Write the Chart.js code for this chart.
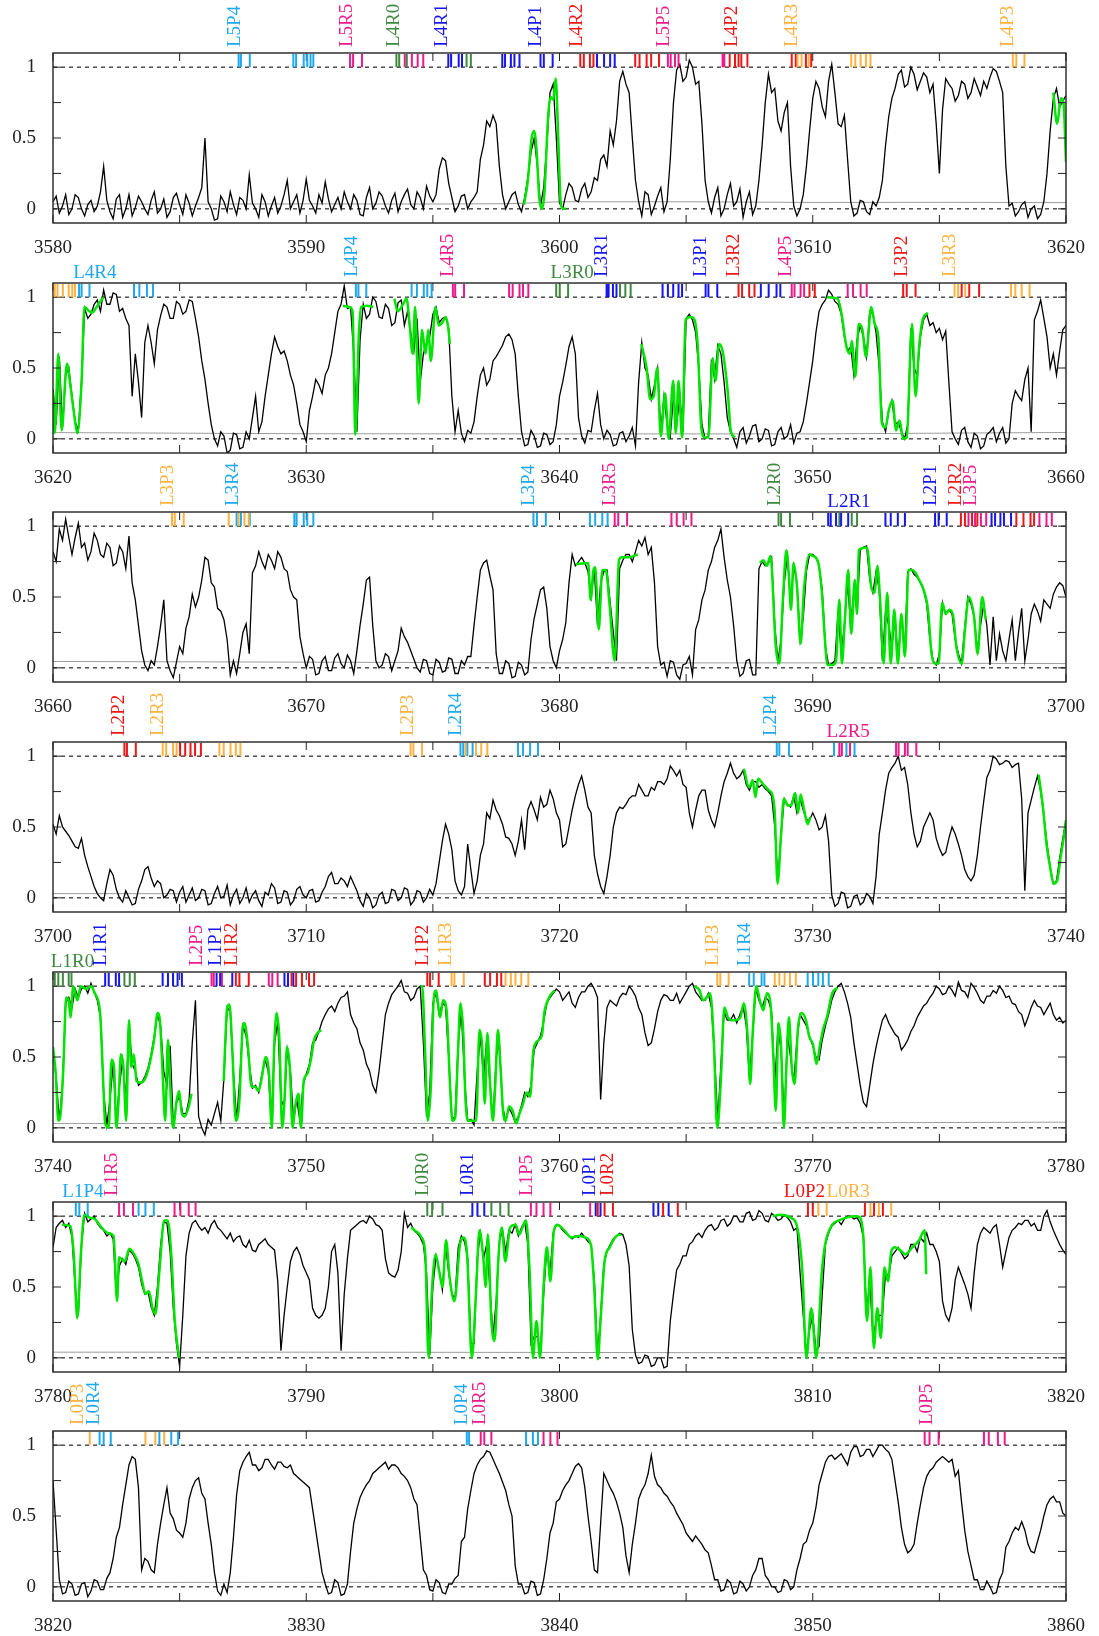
<!DOCTYPE html>
<html>
<head>
<meta charset="utf-8">
<script src="https://cdn.jsdelivr.net/npm/chart.js@4.4.1/dist/chart.umd.min.js"></script>
<style>
  body { margin: 0; background: #fff; }
  #page { position: relative; width: 1099px; height: 1636px; overflow: hidden; background: #fff; }
  .panel { position: absolute; left: 0; width: 1099px; height: 275px; }
</style>
</head>
<body>
<div id="page"></div>
<script>
// wavelength windows (Angstrom), one panel each
var panelStarts = [3580, 3620, 3660, 3700, 3740, 3780, 3820];
var panelSpan = 40;
var sampleStep = 0.125;

// normalised flux, sampled every 0.125 A from the panel start (one row = 5 A)
var flux3580 = [
  0.05,0.09,-0.03,0.02,0.1,-0.04,0.0,0.1,0.08,0.0,-0.05,0.03,0.06,-0.02,0.02,0.12,0.3,0.06,-0.02,-0.07,0.07,0.1,-0.06,0.0,0.1,-0.05,0.01,0.09,0.05,0.0,-0.04,0.06,0.12,-0.03,0.0,0.07,-0.06,-0.02,0.08,0.11,
  0.03,-0.04,0.1,0.04,-0.05,0.02,0.08,0.15,0.5,0.05,0.0,-0.08,-0.07,0.09,0.05,-0.02,0.12,0.03,-0.04,0.08,0.06,0.0,0.24,0.04,0.0,-0.06,0.1,0.05,-0.05,0.02,0.08,-0.03,0.02,0.1,0.2,0.0,0.05,0.1,-0.03,0.06,
  0.21,0.06,0.02,-0.03,0.1,0.04,0.19,0.07,-0.02,0.03,0.08,0.0,0.12,0.05,0.0,0.1,0.06,-0.04,-0.05,0.08,0.15,0.0,0.04,0.12,0.09,0.02,-0.03,0.06,0.11,-0.02,0.05,0.1,0.14,0.03,0.0,0.12,0.08,0.0,0.16,0.09,
  0.05,0.1,0.28,0.36,0.34,0.18,0.08,-0.02,0.02,0.09,0.1,0.0,0.05,0.08,0.12,0.35,0.45,0.62,0.58,0.66,0.6,0.3,0.1,0.0,0.05,0.1,0.12,0.03,-0.02,0.08,0.22,0.4,0.5,0.3,0.02,0.15,0.45,0.82,0.88,0.5,
  0.04,0.0,0.1,0.18,0.15,0.06,0.05,0.14,0.18,0.08,0.12,0.22,0.2,0.35,0.38,0.3,0.55,0.45,0.62,0.9,0.97,0.88,0.82,0.5,0.2,0.05,-0.05,0.12,0.1,-0.04,0.02,0.09,0.15,-0.02,0.05,0.35,0.75,0.98,1.02,0.9,
  0.93,1.05,1.0,0.88,0.9,0.6,0.2,0.05,-0.03,0.08,0.15,-0.05,0.0,0.1,0.18,0.02,0.05,0.14,-0.06,0.05,0.12,-0.04,0.02,0.2,0.45,0.75,0.95,0.82,0.85,0.62,0.55,0.68,0.75,0.3,0.02,-0.05,0.0,0.1,0.3,0.55,
  0.78,0.9,0.85,0.72,0.65,0.9,1.02,0.82,0.6,0.58,0.66,0.35,0.05,-0.05,-0.03,0.06,0.05,-0.02,-0.04,0.05,0.02,0.08,0.2,0.45,0.65,0.78,0.85,0.95,0.98,0.86,0.88,1.0,0.95,0.84,0.9,0.96,0.93,0.82,0.88,0.6,
  0.25,0.7,0.92,0.88,0.85,0.76,0.8,0.9,0.88,0.78,0.82,0.92,0.86,0.8,0.9,0.85,0.93,0.99,0.97,0.9,0.82,0.3,0.02,0.04,-0.05,-0.02,0.03,0.05,-0.06,0.0,0.02,-0.07,-0.04,0.05,0.25,0.55,0.78,0.85,0.72,0.76,
  0.8];
var flux3620 = [
  0.35,0.1,0.58,0.08,0.45,0.5,0.3,0.12,0.06,0.4,0.92,0.85,0.88,0.95,0.98,0.9,1.05,0.95,0.95,1.03,1.02,0.9,0.92,0.85,0.8,0.3,0.6,0.4,0.15,0.68,0.8,0.68,0.53,0.77,0.87,0.95,0.93,0.85,0.85,0.97,
  0.95,0.88,0.9,0.98,0.97,0.85,0.72,0.55,0.42,0.25,0.1,0.0,-0.05,0.05,0.02,-0.1,-0.08,0.04,0.03,-0.07,-0.06,0.05,0.0,0.15,0.3,0.05,0.12,0.3,0.45,0.6,0.72,0.65,0.6,0.62,0.55,0.45,0.38,0.25,0.1,0.05,
  -0.02,0.2,0.3,0.42,0.38,0.32,0.45,0.5,0.6,0.75,0.9,0.95,1.08,0.92,0.93,0.6,0.05,0.7,0.95,0.85,0.88,1.0,0.97,0.86,0.85,0.95,0.92,0.8,0.82,0.96,0.98,0.8,0.9,0.75,0.62,0.85,0.4,0.6,0.68,0.72,
  0.88,0.93,0.82,0.85,0.86,0.78,0.3,0.05,0.2,0.04,-0.02,0.06,0.04,0.12,0.3,0.45,0.5,0.38,0.42,0.55,0.58,0.62,0.66,0.72,0.74,0.7,0.6,0.3,0.05,-0.05,-0.04,0.06,0.02,-0.06,-0.05,0.04,0.03,-0.04,-0.02,0.1,
  0.3,0.4,0.52,0.65,0.72,0.6,0.15,0.02,-0.03,0.06,0.05,0.2,0.32,0.1,0.0,0.06,0.03,-0.05,-0.04,0.04,0.05,-0.02,0.02,0.08,-0.05,0.4,0.68,0.5,0.45,0.28,0.38,0.5,0.05,0.3,0.1,0.02,0.3,0.1,0.3,0.05,
  0.85,0.88,0.84,0.75,0.5,0.1,0.0,0.02,0.56,0.42,0.66,0.6,0.4,0.15,0.05,0.0,-0.06,0.05,0.08,-0.03,0.02,0.09,0.1,-0.02,0.0,0.07,0.06,-0.05,-0.04,0.05,0.08,0.0,0.02,0.1,-0.03,0.04,0.05,0.12,0.25,0.4,
  0.55,0.75,0.9,0.95,0.98,1.05,1.02,0.97,0.95,0.88,0.72,0.62,0.65,0.45,0.7,0.8,0.72,0.58,0.9,0.88,0.75,0.5,0.12,0.05,0.2,0.27,0.1,0.12,0.05,0.0,0.1,0.78,0.5,0.45,0.72,0.84,0.88,0.8,0.82,0.75,
  0.78,0.7,0.76,0.4,0.05,0.0,-0.04,0.06,0.08,-0.02,-0.06,0.04,0.02,-0.07,-0.05,0.03,0.05,0.08,-0.02,0.04,0.08,-0.03,0.0,0.25,0.34,0.3,0.27,0.42,0.5,0.05,0.84,0.9,0.98,0.85,0.72,0.5,0.6,0.45,0.62,0.77,
  0.8];
var flux3660 = [
  0.82,0.75,0.98,0.9,1.05,0.92,0.8,0.92,1.02,0.85,0.88,0.76,0.82,0.95,0.9,0.8,0.78,0.88,0.85,0.72,0.74,0.86,0.82,0.7,0.93,0.6,0.48,0.3,0.12,0.02,-0.02,0.05,0.02,0.15,0.3,0.48,0.05,-0.02,-0.07,0.04,
  0.15,0.1,0.28,0.36,0.52,0.43,0.5,0.62,0.78,0.76,0.6,0.57,0.42,0.4,0.34,0.2,-0.05,0.05,-0.04,0.1,0.25,0.31,0.1,0.67,0.72,0.82,0.75,0.7,0.8,0.76,0.7,0.82,0.78,0.7,0.68,0.55,0.5,0.48,0.22,0.1,
  0.0,0.08,0.06,-0.05,-0.04,0.05,0.08,-0.02,-0.02,0.07,0.1,0.03,0.0,0.09,0.05,-0.04,0.12,0.3,0.45,0.62,0.64,0.3,0.05,0.0,0.02,0.1,0.08,-0.02,0.05,0.12,0.28,0.22,0.18,0.12,0.06,0.0,-0.03,0.06,0.05,-0.04,
  -0.05,0.06,0.04,-0.03,-0.02,0.07,0.06,-0.04,-0.04,0.05,0.02,0.08,0.08,0.3,0.5,0.69,0.74,0.76,0.65,0.55,0.1,-0.04,-0.04,0.05,0.03,-0.07,-0.06,0.04,0.02,-0.05,-0.03,0.2,0.35,0.45,0.55,0.57,0.42,0.15,0.05,0.0,
  0.12,0.2,0.32,0.6,0.8,0.72,0.75,0.78,0.74,0.68,0.5,0.7,0.3,0.6,0.68,0.69,0.46,0.25,0.05,0.7,0.76,0.8,0.8,0.75,0.82,0.9,0.86,0.92,0.8,0.85,0.6,0.15,0.02,0.04,-0.06,0.05,0.04,-0.05,-0.08,0.02,
  0.03,0.08,-0.05,0.27,0.34,0.48,0.55,0.69,0.75,0.85,0.9,0.98,0.78,0.62,0.5,0.3,0.05,-0.06,-0.04,0.05,0.06,-0.05,-0.05,0.7,0.75,0.72,0.74,0.78,0.3,0.05,0.2,0.6,0.8,0.45,0.72,0.6,0.2,0.35,0.68,0.8,
  0.8,0.78,0.72,0.55,0.15,0.02,0.03,0.05,0.4,0.1,0.3,0.6,0.3,0.55,0.4,0.83,0.85,0.86,0.62,0.53,0.68,0.55,0.05,0.4,0.3,0.15,0.35,0.05,0.38,0.1,0.68,0.7,0.66,0.64,0.6,0.55,0.45,0.2,0.05,0.02,
  0.1,0.46,0.38,0.41,0.38,0.2,0.1,0.03,0.28,0.5,0.45,0.36,0.12,0.3,0.45,0.3,0.02,0.36,0.05,0.24,0.12,0.05,0.2,0.34,0.05,0.25,0.42,0.05,0.2,0.38,0.45,0.4,0.33,0.48,0.45,0.42,0.52,0.57,0.6,0.58,
  0.5];
var flux3700 = [
  0.52,0.45,0.58,0.5,0.47,0.44,0.4,0.36,0.35,0.42,0.3,0.22,0.15,0.08,0.03,0.0,-0.02,0.1,0.2,0.16,0.06,0.0,-0.03,0.05,0.0,-0.05,-0.04,0.06,0.12,0.2,0.22,0.14,0.08,0.12,0.1,0.0,0.02,0.06,0.05,-0.03,
  0.04,0.08,-0.03,0.02,0.07,-0.02,0.0,0.06,0.05,-0.05,-0.04,0.03,0.08,0.0,0.01,0.09,-0.05,0.02,0.06,-0.04,0.0,0.07,-0.03,0.02,0.05,-0.02,-0.06,0.04,0.02,0.1,0.07,-0.04,-0.03,0.05,0.04,-0.05,-0.02,0.06,0.08,0.02,
  0.0,0.05,0.06,-0.03,-0.02,0.04,0.08,0.15,0.18,0.1,0.1,0.14,0.12,0.08,0.15,0.1,0.05,-0.02,-0.06,0.03,0.0,-0.07,-0.05,0.02,0.04,-0.04,-0.03,0.06,0.05,-0.02,0.0,0.07,0.06,-0.05,-0.02,0.05,0.04,-0.03,0.0,0.06,
  0.02,0.1,0.25,0.4,0.52,0.45,0.34,0.12,0.05,0.02,0.08,0.38,0.2,0.03,0.12,0.3,0.38,0.6,0.56,0.69,0.62,0.58,0.52,0.43,0.42,0.38,0.3,0.4,0.55,0.34,0.62,0.68,0.62,0.55,0.71,0.64,0.66,0.76,0.7,0.6,
  0.55,0.36,0.38,0.5,0.62,0.72,0.8,0.86,0.76,0.64,0.6,0.3,0.17,0.08,0.03,0.15,0.3,0.5,0.6,0.64,0.63,0.66,0.7,0.72,0.72,0.8,0.76,0.72,0.72,0.78,0.76,0.82,0.82,0.8,0.84,0.93,0.9,0.86,0.9,0.8,
  0.78,0.6,0.5,0.62,0.72,0.76,0.76,0.62,0.55,0.5,0.6,0.72,0.82,0.88,0.95,0.88,0.84,0.86,0.9,0.8,0.76,0.82,0.82,0.78,0.8,0.77,0.75,0.72,0.5,0.12,0.45,0.7,0.66,0.64,0.72,0.6,0.7,0.62,0.55,0.55,
  0.6,0.55,0.48,0.5,0.58,0.4,0.02,-0.06,-0.04,0.04,0.03,-0.07,-0.06,0.01,0.02,-0.05,-0.03,0.03,0.01,-0.04,0.15,0.45,0.6,0.76,0.88,0.92,0.95,1.0,0.9,0.92,0.8,0.6,0.45,0.36,0.4,0.5,0.55,0.6,0.55,0.42,
  0.35,0.3,0.32,0.42,0.5,0.45,0.38,0.3,0.2,0.15,0.12,0.16,0.3,0.5,0.68,0.85,0.9,1.0,0.98,0.94,0.95,0.97,0.96,0.92,0.94,0.95,0.7,0.05,0.6,0.69,0.78,0.86,0.75,0.58,0.38,0.22,0.1,0.12,0.28,0.42,
  0.55];
var flux3740 = [
  0.55,0.35,0.05,0.3,0.88,0.92,0.85,0.98,0.92,0.98,1.0,0.95,1.02,0.96,0.9,0.78,0.25,0.02,0.2,0.45,0.05,0.3,0.48,0.2,0.72,0.45,0.4,0.3,0.32,0.36,0.42,0.52,0.65,0.8,0.72,0.4,0.3,0.58,0.02,0.18,
  0.22,0.1,0.1,0.2,0.6,0.9,0.08,0.0,-0.05,0.06,0.02,0.1,0.18,0.05,0.35,0.85,0.82,0.4,0.05,0.35,0.72,0.65,0.45,0.28,0.3,0.25,0.38,0.48,0.4,0.02,0.6,0.75,0.2,0.15,0.55,0.4,0.05,0.2,0.05,0.3,
  0.38,0.45,0.6,0.62,0.68,0.75,0.8,0.84,0.86,0.82,0.88,0.92,0.93,0.96,0.8,0.74,0.7,0.6,0.55,0.45,0.4,0.3,0.25,0.4,0.6,0.8,0.88,0.94,0.97,1.0,1.04,0.96,0.95,0.9,0.92,0.98,1.0,0.6,0.08,0.25,
  0.88,0.95,0.8,0.88,0.86,0.5,0.06,0.08,0.6,0.82,0.35,0.05,0.06,0.02,0.4,0.65,0.35,0.62,0.32,0.05,0.5,0.6,0.15,0.05,0.14,0.1,0.04,0.08,0.16,0.25,0.22,0.3,0.55,0.6,0.65,0.75,0.88,0.92,0.95,0.98,
  0.96,0.9,0.93,0.96,0.88,0.85,0.92,0.96,0.96,1.0,1.02,0.98,0.92,0.2,0.6,0.85,0.9,0.88,0.86,0.92,0.95,0.94,1.0,0.97,0.93,0.85,0.8,0.67,0.58,0.6,0.7,0.82,0.9,0.94,0.93,0.9,0.9,0.95,0.88,0.92,
  0.96,1.0,1.02,0.96,0.93,0.9,0.9,0.95,0.85,0.5,0.05,0.45,0.82,0.76,0.76,0.8,0.74,0.8,0.86,0.72,0.35,0.65,0.98,0.9,0.85,0.92,0.9,0.82,0.3,0.7,0.55,0.05,0.65,0.5,0.32,0.62,0.8,0.76,0.72,0.64,
  0.58,0.5,0.48,0.62,0.72,0.8,0.9,0.96,1.0,1.02,0.96,0.88,0.78,0.6,0.45,0.3,0.18,0.15,0.3,0.45,0.57,0.67,0.76,0.8,0.74,0.7,0.66,0.64,0.55,0.58,0.62,0.68,0.72,0.78,0.82,0.86,0.88,0.92,0.95,1.0,
  0.98,0.94,0.95,1.0,0.97,0.93,1.03,0.97,0.96,0.92,1.02,0.99,0.95,0.9,0.88,0.93,0.93,0.97,0.95,1.0,0.97,0.92,0.93,0.88,0.87,0.82,0.8,0.72,0.78,0.85,0.9,0.86,0.85,0.8,0.84,0.88,0.8,0.76,0.78,0.74,
  0.76];
var flux3780 = [
  0.78,0.92,0.95,0.97,0.92,0.95,0.85,0.5,0.3,0.8,1.02,0.96,0.98,1.0,0.95,0.92,0.9,0.86,0.88,0.84,0.45,0.65,0.7,0.66,0.76,0.74,0.7,0.64,0.52,0.45,0.47,0.36,0.3,0.5,0.8,0.96,0.95,0.75,0.35,0.1,
  -0.06,0.3,0.72,0.88,0.95,0.97,0.93,0.9,0.92,0.88,0.94,0.97,0.92,0.9,0.87,0.84,0.88,0.82,0.85,0.86,0.8,0.78,0.83,0.76,0.75,0.8,0.82,0.84,0.8,0.78,0.76,0.54,0.05,0.3,0.5,0.68,0.75,0.78,0.73,0.65,
  0.6,0.55,0.35,0.3,0.28,0.3,0.35,0.5,0.75,0.8,0.6,0.05,0.45,0.7,0.9,0.92,0.94,0.96,0.97,0.95,1.0,0.98,0.94,0.93,0.9,0.7,0.6,0.58,0.57,0.62,0.75,1.02,0.92,0.95,0.9,0.88,0.85,0.8,0.6,0.02,
  0.5,0.72,0.62,0.48,0.8,0.6,0.45,0.42,0.78,0.86,0.82,0.7,0.1,0.1,0.7,0.88,0.7,0.8,0.5,0.15,0.4,0.82,0.9,0.75,0.9,0.88,0.94,0.86,0.92,0.96,0.8,0.1,0.15,0.15,0.05,0.45,0.78,0.6,0.88,0.94,
  0.93,0.9,0.88,0.86,0.84,0.86,0.85,0.88,0.85,0.82,0.8,0.55,0.02,0.3,0.66,0.75,0.8,0.84,0.86,0.88,0.87,0.8,0.65,0.2,0.02,-0.04,-0.03,0.02,0.01,-0.06,-0.05,0.0,0.0,-0.07,-0.06,0.26,0.45,0.62,0.66,0.72,
  0.72,0.8,0.82,0.86,0.88,0.85,0.9,0.93,0.94,0.9,0.92,0.97,0.98,0.93,0.95,1.0,1.0,0.96,0.96,1.02,1.03,0.97,0.98,1.04,1.02,0.97,0.96,1.02,1.0,0.97,0.98,1.01,0.99,0.96,0.9,0.92,0.6,0.3,0.03,0.2,
  0.3,0.05,0.08,0.45,0.8,0.88,0.93,0.95,0.97,0.94,0.98,1.0,1.0,0.98,0.99,0.95,0.85,0.3,0.55,0.15,0.25,0.3,0.3,0.6,0.58,0.72,0.75,0.78,0.74,0.7,0.72,0.8,0.8,0.75,0.85,0.82,0.88,0.8,0.8,0.75,
  0.68,0.4,0.3,0.26,0.35,0.55,0.64,0.58,0.52,0.45,0.35,0.6,0.8,0.88,0.92,0.9,0.88,0.92,0.94,0.8,0.64,0.75,0.85,0.9,0.92,0.95,0.94,0.97,0.97,0.93,0.95,0.9,0.9,1.0,1.04,0.96,0.9,0.85,0.8,0.76,
  0.73];
var flux3820 = [
  0.75,0.4,0.05,-0.05,-0.04,0.04,0.02,-0.06,-0.05,0.02,0.03,-0.07,-0.03,0.05,0.04,-0.02,-0.02,0.06,0.1,0.2,0.35,0.42,0.58,0.72,0.86,0.92,0.9,0.7,0.12,0.2,0.18,0.12,0.1,0.3,0.45,0.58,0.7,0.52,0.48,0.4,
  0.38,0.35,0.45,0.62,0.7,0.75,0.77,0.66,0.62,0.45,0.3,0.1,-0.03,-0.06,0.02,-0.04,0.1,0.35,0.65,0.82,0.88,0.92,0.95,0.86,0.86,0.82,0.84,0.9,0.9,0.86,0.83,0.88,0.88,0.85,0.84,0.86,0.8,0.78,0.76,0.74,
  0.72,0.7,0.55,0.4,0.25,0.1,0.02,-0.05,-0.04,0.05,0.03,-0.06,-0.05,0.02,0.25,0.45,0.55,0.63,0.68,0.72,0.75,0.8,0.82,0.84,0.86,0.88,0.83,0.86,0.86,0.84,0.8,0.78,0.75,0.7,0.62,0.58,0.35,0.12,0.08,-0.02,
  -0.03,0.05,0.03,-0.04,-0.05,0.02,0.02,0.06,0.08,0.32,0.35,0.55,0.68,0.8,0.86,0.9,0.92,0.96,0.95,0.9,0.85,0.8,0.74,0.68,0.58,0.5,0.15,0.02,0.02,-0.05,-0.04,0.04,0.03,-0.06,-0.05,0.05,0.2,0.38,0.45,0.6,
  0.62,0.68,0.72,0.75,0.8,0.85,0.87,0.84,0.7,0.5,0.32,0.12,0.1,0.45,0.8,0.75,0.7,0.66,0.6,0.52,0.42,0.22,0.1,0.3,0.45,0.62,0.68,0.72,0.8,0.93,0.78,0.72,0.7,0.66,0.64,0.6,0.57,0.52,0.48,0.44,
  0.38,0.35,0.32,0.36,0.33,0.3,0.26,0.24,0.15,0.05,0.05,-0.03,-0.02,0.05,0.03,-0.05,-0.04,0.04,0.02,-0.03,0.0,0.08,0.12,0.2,0.2,0.08,0.05,0.0,0.0,-0.04,-0.03,0.05,0.04,-0.02,0.0,0.12,0.2,0.3,0.32,0.4,
  0.45,0.56,0.72,0.8,0.88,0.92,0.93,0.9,0.92,0.94,0.9,0.86,0.95,0.99,0.99,0.92,0.93,0.97,0.97,0.92,0.96,1.0,1.0,0.97,0.95,0.9,0.75,0.6,0.42,0.3,0.24,0.26,0.3,0.45,0.58,0.7,0.78,0.82,0.84,0.88,
  0.9,0.92,0.9,0.88,0.9,0.78,0.82,0.6,0.4,0.25,0.15,0.05,0.05,-0.02,-0.02,0.04,0.0,-0.05,-0.04,0.05,0.1,0.28,0.32,0.38,0.42,0.4,0.46,0.4,0.3,0.25,0.24,0.32,0.4,0.5,0.58,0.62,0.64,0.6,0.6,0.52,
  0.5];

// model fits (green), [wavelength, flux] pairs, one list per fitted stretch
var fit3580 = [
  [[3598.6,0.03],[3598.75,0.2],[3598.9,0.5],[3599.0,0.55],[3599.1,0.4],[3599.2,0.08],[3599.3,0.0],[3599.4,0.1],[3599.55,0.65],[3599.65,0.79],[3599.75,0.77],[3599.85,0.92],[3599.95,0.5],[3600.05,0.04],[3600.15,0.0],[3600.25,0.0]],
  [[3619.5,0.82],[3619.65,0.6],[3619.8,0.78],[3619.9,0.75],[3620.0,0.33]]
];
var fit3620 = [
  [[3620.0,0.33],[3620.07,0.04],[3620.21,0.6],[3620.34,0.06],[3620.55,0.53],[3620.69,0.37],[3620.83,0.18],[3620.96,0.04],[3621.13,0.41],[3621.24,0.93],[3621.38,0.91],[3621.54,0.89],[3621.72,0.93],[3621.99,1.0]],
  [[3631.45,0.94],[3631.7,0.93],[3631.83,0.9],[3631.94,0.03],[3632.08,0.75],[3632.17,0.93],[3632.4,0.94],[3632.65,0.93]],
  [[3633.48,0.99],[3633.61,0.9],[3633.82,0.95],[3633.96,0.99],[3634.09,0.79],[3634.2,0.6],[3634.3,0.93],[3634.44,0.25],[3634.57,0.77],[3634.71,0.6],[3634.82,0.77],[3634.92,0.55],[3635.1,0.93],[3635.23,0.8],[3635.37,0.82],[3635.51,0.86],[3635.61,0.78],[3635.67,0.67]],
  [[3643.23,0.67],[3643.44,0.5],[3643.58,0.28],[3643.72,0.3],[3643.86,0.5],[3644.0,0.02],[3644.17,0.32],[3644.31,0.0],[3644.49,0.41],[3644.59,0.04],[3644.7,0.41],[3644.84,0.01],[3644.98,0.84],[3645.18,0.86],[3645.33,0.84],[3645.46,0.65],[3645.6,0.08],[3645.74,0.01],[3645.88,0.01],[3646.05,0.57],[3646.16,0.41],[3646.3,0.67],[3646.44,0.62],[3646.65,0.32],[3646.76,0.06],[3646.93,0.01]],
  [[3650.56,1.0],[3650.98,0.99],[3651.12,0.9],[3651.33,0.65],[3651.47,0.6],[3651.54,0.69],[3651.68,0.44],[3651.82,0.81],[3651.96,0.77],[3652.1,0.58],[3652.31,0.93],[3652.45,0.81],[3652.59,0.72],[3652.73,0.11],[3652.87,0.08],[3653.0,0.2],[3653.15,0.27],[3653.29,0.06],[3653.43,0.13],[3653.57,0.0],[3653.71,0.01],[3653.92,0.81],[3654.06,0.3],[3654.2,0.65],[3654.34,0.84],[3654.55,0.89]]
];
var fit3660 = [
  [[3680.64,0.73],[3681.13,0.74],[3681.23,0.48],[3681.34,0.69],[3681.41,0.71],[3681.55,0.27],[3681.69,0.69],[3681.83,0.69],[3681.97,0.46],[3682.18,0.05],[3682.35,0.76],[3682.46,0.78],[3682.74,0.78],[3683.09,0.8]],
  [[3687.91,0.74],[3688.05,0.76],[3688.19,0.72],[3688.33,0.79],[3688.54,0.15],[3688.68,0.03],[3688.82,0.48],[3688.96,0.83],[3689.06,0.64],[3689.14,0.41],[3689.24,0.74],[3689.38,0.57],[3689.52,0.17],[3689.66,0.57],[3689.87,0.8],[3690.01,0.79],[3690.22,0.74],[3690.36,0.53],[3690.5,0.15],[3690.57,0.02],[3690.78,0.02],[3690.92,0.05],[3691.05,0.48],[3691.15,0.03],[3691.26,0.31],[3691.4,0.69],[3691.52,0.24],[3691.66,0.62],[3691.75,0.38],[3691.82,0.83],[3692.1,0.85],[3692.17,0.83],[3692.31,0.57],[3692.45,0.53],[3692.55,0.72],[3692.66,0.48],[3692.8,0.03],[3692.94,0.53],[3693.08,0.03],[3693.22,0.41],[3693.36,0.03],[3693.5,0.38],[3693.64,0.08],[3693.78,0.69],[3693.92,0.69],[3694.06,0.67],[3694.2,0.62],[3694.34,0.57],[3694.55,0.41],[3694.69,0.1],[3694.83,0.03],[3694.97,0.03],[3695.11,0.46],[3695.25,0.38],[3695.39,0.41],[3695.53,0.38],[3695.67,0.15],[3695.88,0.03],[3696.02,0.29],[3696.16,0.5],[3696.37,0.36],[3696.51,0.1],[3696.69,0.5],[3696.83,0.34]]
];
var fit3700 = [
  [[3727.28,0.91],[3727.49,0.78],[3727.63,0.83],[3727.74,0.71],[3727.84,0.84],[3728.05,0.8],[3728.26,0.76],[3728.4,0.73],[3728.5,0.6],[3728.61,0.1],[3728.75,0.45],[3728.86,0.7],[3729.03,0.65],[3729.17,0.66],[3729.31,0.74],[3729.42,0.6],[3729.52,0.73],[3729.66,0.62],[3729.8,0.52],[3729.9,0.57]],
  [[3738.92,0.87],[3739.09,0.64],[3739.23,0.38],[3739.37,0.22],[3739.51,0.1],[3739.65,0.12],[3739.79,0.29],[3739.93,0.45],[3740.0,0.55]]
];
var fit3740 = [
  [[3740.0,0.57],[3740.11,0.38],[3740.21,0.05],[3740.3,0.1],[3740.41,0.43],[3740.52,0.92],[3740.62,0.9],[3740.69,0.78],[3740.8,1.0],[3740.96,0.9],[3741.1,1.0],[3741.31,0.98],[3741.51,1.0],[3741.65,0.95],[3741.86,0.81],[3741.99,0.29],[3742.06,0.03],[3742.2,0.0],[3742.31,0.48],[3742.41,0.43],[3742.5,0.0],[3742.59,0.19],[3742.68,0.52],[3742.78,0.43],[3742.89,0.05],[3743.0,0.76],[3743.09,0.43],[3743.19,0.52],[3743.3,0.33],[3743.44,0.32],[3743.58,0.33],[3743.71,0.38],[3743.85,0.48],[3743.99,0.62],[3744.13,0.81],[3744.22,0.76],[3744.33,0.38],[3744.43,0.05],[3744.54,0.62],[3744.63,0.29],[3744.74,0.0],[3744.88,0.19],[3744.98,0.26],[3745.09,0.1],[3745.2,0.08],[3745.36,0.15],[3745.47,0.24]],
  [[3746.74,0.33],[3746.88,0.85],[3746.97,0.87],[3747.08,0.55],[3747.22,0.05],[3747.36,0.19],[3747.49,0.71],[3747.56,0.74],[3747.7,0.57],[3747.84,0.29],[3747.98,0.29],[3748.11,0.26],[3748.25,0.36],[3748.39,0.5],[3748.53,0.38],[3748.64,0.0],[3748.73,0.55],[3748.83,0.81],[3748.94,0.62],[3749.05,0.0],[3749.14,0.19],[3749.24,0.57],[3749.35,0.43],[3749.46,0.0],[3749.56,0.15],[3749.69,0.24],[3749.79,0.0],[3749.9,0.33],[3750.04,0.38],[3750.18,0.48],[3750.31,0.62],[3750.45,0.67],[3750.59,0.69]],
  [[3754.51,1.0],[3754.58,1.0],[3754.69,0.55],[3754.8,0.05],[3754.92,0.29],[3755.03,0.9],[3755.13,0.97],[3755.22,0.85],[3755.29,0.78],[3755.4,0.9],[3755.54,0.83],[3755.68,0.29],[3755.77,0.05],[3755.88,0.07],[3755.98,0.48],[3756.09,0.88],[3756.2,0.67],[3756.29,0.19],[3756.4,0.05],[3756.57,0.05],[3756.71,0.05],[3756.84,0.69],[3756.94,0.59],[3757.05,0.17],[3757.15,0.67],[3757.26,0.31],[3757.37,0.05],[3757.46,0.29],[3757.57,0.69],[3757.67,0.43],[3757.78,0.1],[3757.87,0.05],[3758.01,0.15],[3758.15,0.12],[3758.29,0.03],[3758.42,0.1],[3758.56,0.17],[3758.7,0.25],[3758.84,0.22],[3758.97,0.55],[3759.18,0.62],[3759.32,0.67],[3759.39,0.8],[3759.59,0.92],[3759.8,0.97]],
  [[3765.32,1.0],[3765.53,0.97],[3765.67,0.9],[3765.81,0.92],[3765.95,0.95],[3766.09,0.62],[3766.23,0.0],[3766.37,0.33],[3766.51,0.85],[3766.65,0.78],[3766.79,0.76],[3766.93,0.76],[3767.14,0.78],[3767.28,0.88],[3767.42,0.67],[3767.53,0.31],[3767.63,0.67],[3767.77,1.0],[3767.91,0.9],[3768.05,0.83],[3768.19,0.95],[3768.33,0.88],[3768.44,0.52],[3768.54,0.12],[3768.65,0.74],[3768.75,0.57],[3768.86,0.0],[3768.96,0.43],[3769.06,0.78],[3769.17,0.43],[3769.28,0.31],[3769.42,0.71],[3769.56,0.81],[3769.73,0.76],[3769.87,0.64],[3770.01,0.59],[3770.15,0.45],[3770.29,0.59],[3770.43,0.71],[3770.56,0.78],[3770.77,0.95],[3770.98,0.99]]
];
var fit3780 = [
  [[3780.36,0.94],[3780.69,0.93],[3780.82,0.73],[3780.96,0.28],[3781.1,0.73],[3781.24,1.01],[3781.45,0.99],[3781.65,0.98],[3781.92,0.92],[3782.2,0.88],[3782.39,0.86],[3782.53,0.4],[3782.61,0.71],[3782.83,0.68],[3783.02,0.77],[3783.21,0.73],[3783.38,0.66],[3783.52,0.54],[3783.65,0.45],[3783.79,0.47],[3783.93,0.35],[3784.04,0.31],[3784.2,0.61],[3784.39,0.97],[3784.53,0.97],[3784.67,0.73],[3784.81,0.26],[3784.98,0.0]],
  [[3794.15,0.92],[3794.28,0.9],[3794.56,0.85],[3794.7,0.73],[3794.83,0.0],[3794.97,0.5],[3795.11,0.73],[3795.25,0.61],[3795.38,0.5],[3795.52,0.83],[3795.66,0.57],[3795.85,0.4],[3796.07,0.8],[3796.21,0.85],[3796.35,0.73],[3796.54,0.0],[3796.7,0.45],[3796.84,0.9],[3796.98,0.73],[3797.09,0.5],[3797.17,0.87],[3797.31,0.26],[3797.44,0.12],[3797.58,0.68],[3797.72,0.92],[3797.86,0.68],[3798.05,0.92],[3798.27,0.94],[3798.41,0.87],[3798.54,0.92],[3798.68,0.97],[3798.82,0.61],[3798.95,0.0],[3799.09,0.26],[3799.23,0.0],[3799.37,0.5],[3799.5,0.78],[3799.64,0.54],[3799.78,0.9],[3799.92,0.94],[3800.19,0.9],[3800.47,0.85],[3800.74,0.86],[3801.02,0.85],[3801.24,0.8],[3801.37,0.5],[3801.51,-0.01],[3801.62,0.26],[3801.78,0.68],[3801.98,0.78],[3802.25,0.86],[3802.44,0.87]],
  [[3808.43,1.0],[3808.71,1.01],[3809.12,0.99],[3809.39,0.92],[3809.59,0.61],[3809.75,0.0],[3809.94,0.35],[3810.14,0.0],[3810.36,0.61],[3810.49,0.8],[3810.77,0.94],[3811.04,0.97],[3811.32,0.99],[3811.73,1.0],[3811.87,0.99],[3812.0,0.85],[3812.14,0.26],[3812.28,0.64],[3812.41,0.07],[3812.55,0.35],[3812.69,0.14],[3812.83,0.64],[3812.97,0.54],[3813.1,0.75],[3813.24,0.78],[3813.52,0.75],[3813.65,0.73],[3813.93,0.78],[3814.2,0.83],[3814.42,0.9],[3814.48,0.59]]
];
var fit3820 = [];

// flux error (grey), [wavelength, sigma]
var errorCurve = [[3580,0.035],[3585,0.033],[3590,0.035],[3595,0.034],[3598,0.036],[3600,0.05],[3605,0.05],[3610,0.045],
  [3615,0.046],[3620,0.044],[3625,0.04],[3630,0.036],[3640,0.035],[3650,0.035],[3660,0.045],[3670,0.04],[3680,0.035],
  [3690,0.035],[3700,0.03],[3710,0.028],[3720,0.03],[3730,0.03],[3740,0.03],[3750,0.032],[3760,0.03],[3770,0.035],
  [3780,0.04],[3790,0.04],[3800,0.038],[3810,0.035],[3820,0.03],[3830,0.032],[3840,0.03],[3850,0.03],[3860,0.03]];

// H2 line positions, grouped by colour (vibrational level)
var ticksCyan = [3587.33,3587.42,3587.77,3589.49,3589.6,3589.9,3590.04,3590.17,3590.28,
  3621.03,3621.13,3621.44,3623.2,3623.41,3623.71,3623.95,3631.96,3632.06,3632.37,3634.16,3634.37,3634.64,3634.78,3634.95,
  3667.25,3667.42,3667.77,3669.53,3669.62,3669.9,3670.04,3670.28,3678.97,3679.11,3679.46,3681.2,3681.41,3681.69,3681.9,
  3716.09,3716.2,3716.36,3716.57,3718.36,3718.56,3718.84,3719.15,3728.58,3728.68,3729.06,3730.84,3731.33,3731.65,
  3767.49,3767.67,3767.98,3768.09,3769.8,3770.01,3770.22,3770.4,3770.63,
  3780.9,3781.04,3781.37,3783.38,3783.65,3783.98,
  3821.84,3822.0,3822.28,3824.2,3824.67,3824.94,3836.34,3836.43,3838.68,3838.95,3839.15];
var ticksPink = [3591.73,3591.85,3592.2,3593.89,3594.17,3594.4,3594.62,3604.28,3604.39,3604.56,3604.7,3606.44,3606.51,
  3635.79,3635.88,3636.23,3638.01,3638.15,3638.42,3638.56,3638.77,3649.17,3649.28,3649.52,3649.66,3651.38,3651.59,3651.89,3652.13,
  3682.18,3682.32,3682.67,3684.42,3684.63,3684.9,3685.21,3696.15,3696.41,3696.64,3696.85,3698.95,3699.23,3699.44,
  3731.05,3731.15,3731.47,3733.29,3733.39,3733.64,3733.75,3734.09,
  3746.26,3746.35,3746.67,3748.52,3748.66,3748.87,
  3782.61,3782.8,3783.16,3784.8,3785.03,3785.36,3785.63,3798.87,3799.09,3799.37,3799.64,3801.21,
  3836.89,3837.03,3837.31,3839.37,3839.64,3839.92,3854.42,3854.61,3854.97,3856.76,3856.95,3857.31,3857.58];
var ticksGreen = [3593.56,3593.67,3593.97,3596.33,3596.5,
  3639.87,3640.01,3640.34,3642.39,3642.6,3642.81,
  3688.65,3688.75,3689.1,3691.05,3691.54,3691.75,
  3740.07,3740.21,3740.39,3740.62,3740.73,3742.82,3743.03,3743.23,
  3794.78,3794.97,3795.38,3797.31,3797.66,3797.99];
var ticksBlue = [3595.61,3595.72,3596.02,3596.15,3597.74,3597.85,3598.08,3598.22,3598.42,3599.25,3599.38,3599.73,3601.48,3601.76,3602.0,3602.18,
  3641.86,3641.94,3642.11,3642.25,3644.07,3644.28,3644.49,3644.7,3644.84,3645.77,3645.88,3646.23,3647.95,3648.26,3648.57,3648.72,
  3690.61,3690.71,3690.92,3691.12,3691.4,3692.87,3693.08,3693.36,3693.64,3694.83,3694.97,3695.29,3697.06,3697.2,3697.41,3697.55,3697.83,
  3742.06,3742.2,3742.48,3742.61,3744.33,3744.54,3744.74,3744.92,3745.09,3746.46,3746.6,3747.08,3749.14,3749.28,3749.49,
  3796.56,3796.76,3797.03,3801.43,3801.62,3803.71,3803.9,3804.31];
var ticksRed = [3600.82,3600.96,3601.2,3601.34,3602.99,3603.16,3603.44,3603.62,3603.93,3606.72,3606.93,3607.07,3607.18,3607.42,3609.17,3609.33,3609.73,3609.94,
  3647.07,3647.21,3647.49,3647.7,3649.87,3650.08,3653.57,3653.71,3654.06,3655.88,3656.18,3656.57,
  3695.85,3696.01,3696.29,3696.5,3698.04,3698.32,3698.6,3698.74,
  3702.82,3702.92,3703.27,3705.02,3705.22,3705.43,3705.61,3705.84,
  3747.22,3747.36,3747.73,3749.42,3749.6,3749.83,3750.11,3750.31,3754.78,3754.89,3755.23,3757.05,3757.26,3757.53,3757.7,
  3801.51,3801.78,3802.11,3804.09,3804.67,3809.81,3810.0,3812.06,3812.42,3812.77];
var ticksOrange = [3609.4,3609.56,3609.84,3611.52,3611.68,3611.89,3612.1,3612.28,3617.9,3618.04,3618.36,
  3620.07,3620.18,3620.39,3620.62,3620.76,3620.87,3655.6,3655.74,3656.02,3657.83,3658.0,3658.25,3658.56,
  3664.7,3664.81,3665.16,3666.94,3667.33,3667.56,3667.73,
  3704.33,3704.47,3704.74,3704.88,3706.57,3706.74,3707.01,3707.22,3707.4,3714.12,3714.23,3714.57,3716.29,3716.7,3716.91,3717.15,
  3755.74,3755.85,3756.22,3757.87,3758.08,3758.26,3758.49,3758.77,3766.23,3766.35,3766.68,3768.5,3768.68,3768.89,3769.1,3769.33,
  3810.22,3810.55,3812.28,3812.61,3813.1,
  3821.45,3823.65,3824.04,3824.39];

// line labels: text, wavelength, colour key, horizontal (1) or upright (0)
var lineLabels = [
  ['L5P4',3587.15,'c',0],['L5R5',3591.55,'m',0],['L4R0',3593.41,'g',0],['L4R1',3595.33,'b',0],['L4P1',3599.04,'b',0],
  ['L4R2',3600.64,'r',0],['L5P5',3604.07,'m',0],['L4P2',3606.76,'r',0],['L4R3',3609.14,'o',0],['L4P3',3617.69,'o',0],
  ['L4R4',3621.65,'c',1],['L4P4',3631.76,'c',0],['L4R5',3635.54,'m',0],['L3R0',3640.5,'g',1],['L3R1',3641.62,'b',0],
  ['L3P1',3645.53,'b',0],['L3R2',3646.86,'r',0],['L4P5',3648.89,'m',0],['L3P2',3653.5,'r',0],['L3R3',3655.39,'o',0],
  ['L3P3',3664.51,'o',0],['L3R4',3667.08,'c',0],['L3P4',3678.77,'c',0],['L3R5',3681.97,'m',0],['L2R0',3688.47,'g',0],
  ['L2R1',3691.43,'b',1],['L2P1',3694.62,'b',0],['L2R2',3695.6,'r',0],['L3P5',3696.22,'m',0],
  ['L2P2',3702.58,'r',0],['L2R3',3704.1,'o',0],['L2P3',3713.96,'o',0],['L2R4',3715.88,'c',0],['L2P4',3728.33,'c',0],
  ['L2R5',3731.4,'m',1],
  ['L1R0',3740.77,'g',1],['L1R1',3741.86,'b',0],['L2P5',3745.64,'m',0],['L1P1',3746.39,'b',0],['L1R2',3747.01,'r',0],
  ['L1P2',3754.57,'r',0],['L1R3',3755.47,'o',0],['L1P3',3766.02,'o',0],['L1R4',3767.28,'c',0],
  ['L1P4',3781.18,'c',1],['L1R5',3782.28,'m',0],['L0R0',3794.56,'g',0],['L0R1',3796.34,'b',0],['L1P5',3798.68,'m',0],
  ['L0P1',3801.15,'b',0],['L0R2',3801.89,'r',0],['L0P2',3809.67,'r',1],['L0R3',3811.4,'o',1],
  ['L0P3',3820.96,'o',0],['L0R4',3821.56,'c',0],['L0P4',3836.13,'c',0],['L0R5',3836.84,'m',0],['L0P5',3854.48,'m',0]
];

var xLabelStep = 10;
var xMinorStep = 5;
var yLabelValues = [0, 0.5, 1];
var yMinorStep = 0.25;

var fluxByPanel = [flux3580, flux3620, flux3660, flux3700, flux3740, flux3780, flux3820];
var fitByPanel = [fit3580, fit3620, fit3660, fit3700, fit3740, fit3780, fit3820];

var colours = { c: '#1ea8ee', m: '#ee1a8c', g: '#3f893f', b: '#1616ee', r: '#ee1616', o: '#ffb240' };
var markSets = [[ticksCyan, 'c'], [ticksPink, 'm'], [ticksGreen, 'g'], [ticksBlue, 'b'], [ticksRed, 'r'], [ticksOrange, 'o']];
var fontFamily = '"Liberation Serif", "DejaVu Serif", serif';

// frame, inward ticks, line marks and their labels
var extrasPlugin = {
  id: 'extras',
  afterDatasetsDraw: function (chart) {
    var ctx = chart.ctx, a = chart.chartArea;
    var xs = chart.scales.x, ys = chart.scales.y;
    var start = xs.min, end = xs.max;
    ctx.save();

    ctx.strokeStyle = '#222';
    ctx.lineWidth = 1.4;
    ctx.strokeRect(a.left, a.top, a.right - a.left, a.bottom - a.top);

    ctx.lineWidth = 1;
    ctx.beginPath();
    for (var v = start; v <= end; v += xMinorStep) {
      var px = xs.getPixelForValue(v);
      ctx.moveTo(px, a.top); ctx.lineTo(px, a.top + 8);
      ctx.moveTo(px, a.bottom); ctx.lineTo(px, a.bottom - 8);
    }
    for (var y = 0; y <= 1; y += yMinorStep) {
      var py = ys.getPixelForValue(y);
      ctx.moveTo(a.left, py); ctx.lineTo(a.left + 8, py);
      ctx.moveTo(a.right, py); ctx.lineTo(a.right - 8, py);
    }
    ctx.stroke();

    var yOne = ys.getPixelForValue(1);
    markSets.forEach(function (set) {
      ctx.strokeStyle = colours[set[1]];
      ctx.lineWidth = 2;
      ctx.beginPath();
      set[0].forEach(function (w) {
        if (w < start || w > end) return;
        var px = xs.getPixelForValue(w);
        ctx.moveTo(px, a.top + 1); ctx.lineTo(px, yOne);
      });
      ctx.stroke();
    });

    ctx.font = '19px ' + fontFamily;
    lineLabels.forEach(function (lab) {
      if (lab[1] < start || lab[1] > end) return;
      var px = xs.getPixelForValue(lab[1]);
      ctx.fillStyle = colours[lab[2]];
      if (lab[3]) {
        ctx.textAlign = 'center';
        ctx.textBaseline = 'alphabetic';
        ctx.fillText(lab[0], px, a.top - 5);
      } else {
        ctx.save();
        ctx.translate(px + 6, a.top - 6);
        ctx.rotate(-Math.PI / 2);
        ctx.textAlign = 'left';
        ctx.textBaseline = 'alphabetic';
        ctx.fillText(lab[0], 0, 0);
        ctx.restore();
      }
    });
    ctx.restore();
  }
};

function pairsToPoints(list) {
  return list.map(function (p) { return { x: p[0], y: p[1] }; });
}

var page = document.getElementById('page');
panelStarts.forEach(function (start, k) {
  var end = start + panelSpan;
  var box = document.createElement('div');
  box.className = 'panel';
  box.style.top = (229.7 * k) + 'px';
  var canvas = document.createElement('canvas');
  box.appendChild(canvas);
  page.appendChild(box);

  var fluxPts = fluxByPanel[k].map(function (v, i) { return { x: start + i * sampleStep, y: v }; });
  var errPts = pairsToPoints(errorCurve.filter(function (p) { return p[0] >= start && p[0] <= end; }));

  var datasets = [];
  fitByPanel[k].forEach(function (seg) {
    datasets.push({ data: pairsToPoints(seg), borderColor: '#00e400', borderWidth: 2.5,
                    cubicInterpolationMode: 'monotone', order: 0 });
  });
  datasets.push({ data: fluxPts, borderColor: '#000', borderWidth: 1.3, order: 1 });
  datasets.push({ data: [{ x: start, y: 1 }, { x: end, y: 1 }], borderColor: '#222', borderWidth: 1.2, borderDash: [4, 4], order: 2 });
  datasets.push({ data: [{ x: start, y: 0 }, { x: end, y: 0 }], borderColor: '#222', borderWidth: 1.2, borderDash: [4, 4], order: 2 });
  datasets.push({ data: errPts, borderColor: '#9c9c9c', borderWidth: 1, order: 3 });

  var xTickValues = [];
  for (var t = start; t <= end; t += xLabelStep) xTickValues.push(t);

  new Chart(canvas, {
    type: 'line',
    data: { datasets: datasets },
    plugins: [extrasPlugin],
    options: {
      responsive: true,
      maintainAspectRatio: false,
      animation: false,
      events: [],
      layout: { padding: { left: 0, right: 26, top: 53, bottom: 22 } },
      elements: { point: { radius: 0 }, line: { tension: 0, fill: false } },
      plugins: { legend: { display: false }, tooltip: { enabled: false } },
      scales: {
        x: {
          type: 'linear', min: start, max: end,
          afterFit: function (s) { s.height = 30; },
          afterBuildTicks: function (axis) { axis.ticks = xTickValues.map(function (v) { return { value: v }; }); },
          grid: { display: false, drawTicks: false },
          border: { display: false },
          ticks: { padding: 14, maxRotation: 0, autoSkip: false, color: '#222',
                   font: { family: fontFamily, size: 19 },
                   callback: function (v) { return String(v); } }
        },
        y: {
          min: -0.1, max: 1.1,
          afterFit: function (s) { s.width = 53; },
          afterBuildTicks: function (axis) { axis.ticks = yLabelValues.map(function (v) { return { value: v }; }); },
          grid: { display: false, drawTicks: false },
          border: { display: false },
          ticks: { padding: 17, color: '#222', font: { family: fontFamily, size: 19 },
                   callback: function (v) { return String(v); } }
        }
      }
    }
  });
});
</script>
</body>
</html>
